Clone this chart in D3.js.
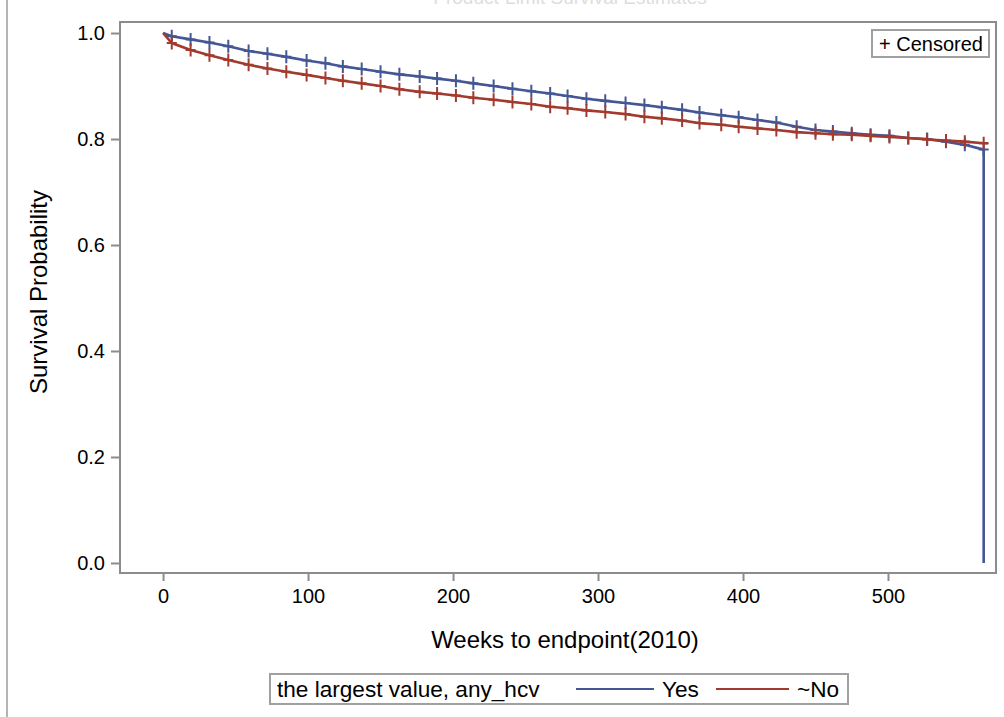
<!DOCTYPE html>
<html>
<head>
<meta charset="utf-8">
<script src="https://cdn.jsdelivr.net/npm/d3@7"></script>
<style>
  body { margin: 0; background: #fff; }
  svg { display: block; font-family: "Liberation Sans", Arial, sans-serif; }
</style>
</head>
<body>
<svg width="1004" height="717"></svg>
<script>
// weeks where a censored "+" sits on both curves (0 = start)
var weeks = [0, 6, 19, 32, 45, 59, 72, 85, 99, 112, 124, 137, 150, 163, 177, 189, 202, 214, 228, 241,
  254, 267, 279, 292, 305, 319, 332, 344, 358, 370, 385, 397, 410, 423, 437, 450, 462, 475, 488, 501,
  514, 527, 540, 553, 566];
var yesValues = [1.0, 0.994, 0.988, 0.982, 0.975, 0.966, 0.961, 0.955, 0.948, 0.943, 0.937, 0.932, 0.927, 0.922, 0.918,
  0.914, 0.910, 0.905, 0.900, 0.895, 0.890, 0.886, 0.881, 0.876, 0.872, 0.868, 0.864, 0.860, 0.855, 0.850,
  0.845, 0.841, 0.836, 0.831, 0.823, 0.817, 0.814, 0.811, 0.808, 0.806, 0.802, 0.800, 0.795, 0.789, 0.780];
var noValues = [1.0, 0.981, 0.968, 0.958, 0.949, 0.940, 0.933, 0.927, 0.921, 0.915, 0.910, 0.905, 0.900, 0.894, 0.889,
  0.886, 0.882, 0.878, 0.874, 0.870, 0.866, 0.861, 0.858, 0.854, 0.851, 0.847, 0.842, 0.839, 0.835, 0.830,
  0.827, 0.823, 0.820, 0.817, 0.813, 0.811, 0.809, 0.808, 0.806, 0.804, 0.802, 0.799, 0.797, 0.795, 0.792];
// last steps after the final censored time
var yesTail = [[566, 0.0]];
var noTail = [[569, 0.792]];
var xTicks = [0, 100, 200, 300, 400, 500];
var yTicks = [0.0, 0.2, 0.4, 0.6, 0.8, 1.0];
var groups = ["Yes", "~No"];
var colors = ["#445694", "#a23a2e"];

var svg = d3.select("svg");
var plotLeft = 120, plotRight = 996, plotTop = 22, plotBottom = 573;

var x = d3.scaleLinear().domain([-29.7, 574.5]).range([plotLeft, plotRight]);
var y = d3.scaleLinear().domain([-0.0189, 1.0208]).range([plotBottom, plotTop]);

// faint gray rule at far left
svg.append("line").attr("x1", 7).attr("x2", 7).attr("y1", 0).attr("y2", 717)
  .attr("stroke", "#b4b4b4").attr("stroke-width", 2);

// title, mostly cut off at top edge
svg.append("text").attr("x", 570).attr("y", 4).attr("text-anchor", "middle")
  .attr("font-size", 19).attr("fill", "#dddddd").text("Product-Limit Survival Estimates");

// axes
var xAxis = svg.append("g").attr("transform", "translate(0," + plotBottom + ")")
  .call(d3.axisBottom(x).tickValues(xTicks).tickSize(8).tickPadding(8).tickFormat(d3.format("d")));
var yAxis = svg.append("g").attr("transform", "translate(" + plotLeft + ",0)")
  .call(d3.axisLeft(y).tickValues(yTicks).tickSize(9).tickPadding(6).tickFormat(d3.format(".1f")));
[xAxis, yAxis].forEach(function(a) {
  a.select(".domain").remove();
  a.selectAll("line").attr("stroke", "#8c8c8c").attr("stroke-width", 2);
  a.selectAll("text").attr("font-size", 20).attr("fill", "#000")
    .attr("font-family", "Liberation Sans, Arial, sans-serif");
});

svg.append("rect").attr("x", plotLeft).attr("y", plotTop)
  .attr("width", plotRight - plotLeft).attr("height", plotBottom - plotTop)
  .attr("fill", "none").attr("stroke", "#8c8c8c").attr("stroke-width", 2);

// axis titles
svg.append("text").attr("x", 565).attr("y", 648).attr("text-anchor", "middle")
  .attr("font-size", 24).text("Weeks to endpoint(2010)");
svg.append("text").attr("transform", "translate(47,292) rotate(-90)").attr("text-anchor", "middle")
  .attr("font-size", 24).text("Survival Probability");

// curves
var line = d3.line().x(function(d) { return x(d[0]); }).y(function(d) { return y(d[1]); });
var series = [
  { values: yesValues, tail: yesTail, color: colors[0] },
  { values: noValues, tail: noTail, color: colors[1] }
];
series.forEach(function(s) {
  var pts = weeks.map(function(w, i) { return [w, s.values[i]]; });
  svg.append("path").datum(pts.concat(s.tail))
    .attr("fill", "none").attr("stroke", s.color).attr("stroke-width", 2.6)
    .attr("d", line);
  var marks = svg.append("g").attr("stroke", s.color).attr("stroke-width", 2);
  marks.selectAll("path").data(pts.slice(1)).enter().append("path")
    .attr("d", function(d) {
      var cx = x(d[0]), cy = y(d[1]);
      return "M" + (cx - 5) + "," + cy + "H" + (cx + 5) + "M" + cx + "," + (cy - 6.5) + "V" + (cy + 6.5);
    });
});

// censored legend box
svg.append("rect").attr("x", 872).attr("y", 30).attr("width", 117).attr("height", 27)
  .attr("fill", "#fff").attr("stroke", "#a0a0a0").attr("stroke-width", 2);
svg.append("text").attr("x", 879).attr("y", 50.5).attr("font-size", 20).text("+ Censored");

// group legend
var lg = svg.append("g");
lg.append("rect").attr("x", 270).attr("y", 674).attr("width", 578).attr("height", 30)
  .attr("fill", "#fff").attr("stroke", "#a0a0a0").attr("stroke-width", 2);
lg.append("text").attr("x", 277).attr("y", 697).attr("font-size", 22.6).text("the largest value, any_hcv");
var legendX = [[576, 654, 662], [716, 789, 797]];
groups.forEach(function(g, i) {
  lg.append("line").attr("x1", legendX[i][0]).attr("x2", legendX[i][1]).attr("y1", 689).attr("y2", 689)
    .attr("stroke", colors[i]).attr("stroke-width", 2);
  lg.append("text").attr("x", legendX[i][2]).attr("y", 697).attr("font-size", 22.6).text(g);
});
</script>
</body>
</html>
